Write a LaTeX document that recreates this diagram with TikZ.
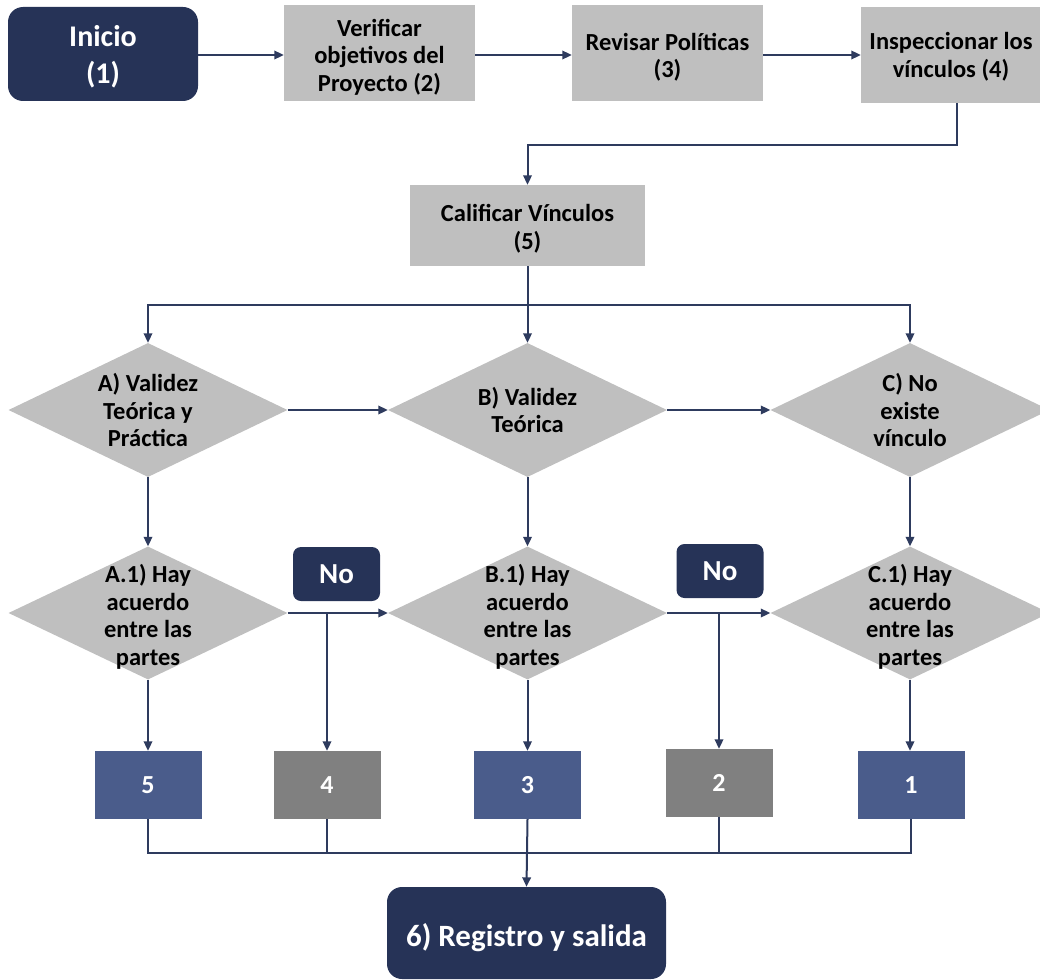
\documentclass[tikz,border=0pt]{standalone}
\usepackage{fontspec}
\setmainfont{Carlito}
\usetikzlibrary{shapes.geometric,arrows.meta}
\definecolor{navy}{HTML}{263357}
\definecolor{linecol}{HTML}{2E3B5E}
\definecolor{lightgrey}{HTML}{BFBFBF}
\definecolor{midblue}{HTML}{4A5C8B}
\definecolor{darkgrey}{HTML}{808080}
\tikzset{
  txt/.style={font=\bfseries\fontsize{24.5}{27.5}\selectfont, align=center, text=black},
  whitetxt/.style={font=\bfseries\fontsize{30}{37}\selectfont, align=center, text=white},
  startbox/.style={fill=navy, rounded corners=15pt, inner sep=0pt},
  stepbox/.style={fill=lightgrey, inner sep=0pt},
  dia/.style={diamond, fill=lightgrey, minimum width=279pt, minimum height=134pt, inner sep=0pt},
  nobox/.style={fill=navy, rounded corners=8pt, text=white, inner sep=0pt,
    minimum width=87pt, minimum height=54pt, font=\bfseries\fontsize{29}{30}\selectfont},
  score/.style={inner sep=0pt, minimum width=107pt, minimum height=68pt, text=white,
    font=\bfseries\fontsize{26}{28}\selectfont},
  conn/.style={draw=linecol, line width=2pt},
  arrow/.style={conn, -{Triangle[length=9.5pt,width=8.5pt]}},
}
\begin{document}
\begin{tikzpicture}[x=1pt,y=-1pt]
\useasboundingbox (0,0) rectangle (1040,979);
\clip (0,0) rectangle (1040,979);

% top row
\node[startbox, minimum width=190pt, minimum height=94pt,
  label={[whitetxt,yshift=-3pt]center:{Inicio\\(1)}}] (inicio) at (103,54) {};
\node[stepbox, minimum width=191pt, minimum height=96pt,
  label={[txt,yshift=-4pt]center:{Verificar\\objetivos del\\Proyecto (2)}}] (verif) at (379.5,53) {};
\node[stepbox, minimum width=191pt, minimum height=96pt,
  label={[txt,yshift=-4pt]center:{Revisar Políticas\\(3)}}] (revisar) at (667.5,53) {};
\node[stepbox, minimum width=192pt, minimum height=96pt,
  label={[txt,xshift=-6pt,yshift=-2pt]center:{Inspeccionar los\\vínculos (4)}}] (insp) at (957,55) {};

% rating step
\node[stepbox, minimum width=235pt, minimum height=81pt,
  label={[txt,yshift=-3pt]center:{Calificar Vínculos\\(5)}}] (calif) at (527.5,225.5) {};

% first row of decisions
\node[dia, label={[txt]center:{A) Validez\\Teórica y\\Práctica}}] (diaA) at (148,410) {};
\node[dia, label={[txt]center:{B) Validez\\Teórica}}] (diaB) at (527.5,410) {};
\node[dia, label={[txt]center:{C) No\\existe\\vínculo}}] (diaC) at (910,410) {};

% second row of decisions
\node[dia, minimum height=133pt, label={[txt,yshift=-4pt]center:{A.1) Hay\\acuerdo\\entre las\\partes}}] (diaA1) at (148,613) {};
\node[dia, minimum height=133pt, label={[txt,yshift=-4pt]center:{B.1) Hay\\acuerdo\\entre las\\partes}}] (diaB1) at (527.5,613) {};
\node[dia, minimum height=133pt, label={[txt,yshift=-4pt]center:{C.1) Hay\\acuerdo\\entre las\\partes}}] (diaC1) at (910,613) {};

% "No" tags
\node[nobox] (no1) at (336.5,574) {No};
\node[nobox] (no2) at (720,571) {No};

% score boxes
\node[score, fill=midblue] (box5) at (148,785) {5};
\node[score, fill=darkgrey] (box4) at (327,785) {4};
\node[score, fill=midblue] (box3) at (527.5,785) {3};
\node[score, fill=darkgrey] (box2) at (719,783) {2};
\node[score, fill=midblue] (box1) at (911,785) {1};

% exit
\node[startbox, minimum width=279pt, minimum height=92pt,
  label={[whitetxt,font=\bfseries\fontsize{31}{34}\selectfont,yshift=-5pt]center:{6) Registro y salida}}] (reg) at (526.5,933) {};

\coordinate (turn) at (957,145);
\coordinate (hub) at (527.5,305);
\coordinate (join) at (527.5,853);

% connectors, top row
\draw[arrow] (inicio.east |- 0,55) -- (verif.west |- 0,55);
\draw[arrow] (verif.east |- 0,55) -- (revisar.west |- 0,55);
\draw[arrow] (revisar.east |- 0,55) -- (insp.west |- 0,55);
\draw[arrow] (insp.south) -- (turn) -| (calif.north);

% split to the three ratings
\draw[arrow] (calif.south) -- (diaB.north);
\draw[arrow] (hub) -| (diaA.north);
\draw[arrow] (hub) -| (diaC.north);
\draw[arrow] (diaA.east) -- (diaB.west);
\draw[arrow] (diaB.east) -- (diaC.west);

% down to agreements
\draw[arrow] (diaA.south) -- (diaA1.north);
\draw[arrow] (diaB.south) -- (diaB1.north);
\draw[arrow] (diaC.south) -- (diaC1.north);
\draw[arrow] (diaA1.east) -- (diaB1.west);
\draw[arrow] (diaB1.east) -- (diaC1.west);

% to the scores
\draw[arrow] (diaA1.south) -- (box5.north);
\draw[arrow] (box4.north |- diaA1.east) -- (box4.north);
\draw[arrow] (diaB1.south) -- (box3.north);
\draw[arrow] (box2.north |- diaB1.east) -- (box2.north);
\draw[arrow] (diaC1.south) -- (box1.north -| diaC1.south);

% collect into the exit
\draw[conn] (box5.south) |- (join);
\draw[conn] (box1.south) |- (join);
\draw[conn] (box4.south) -- (box4.south |- join);
\draw[conn] (box2.south) -- (box2.south |- join);
\draw[arrow] (box3.south) -- (reg.north);
\end{tikzpicture}
\end{document}
